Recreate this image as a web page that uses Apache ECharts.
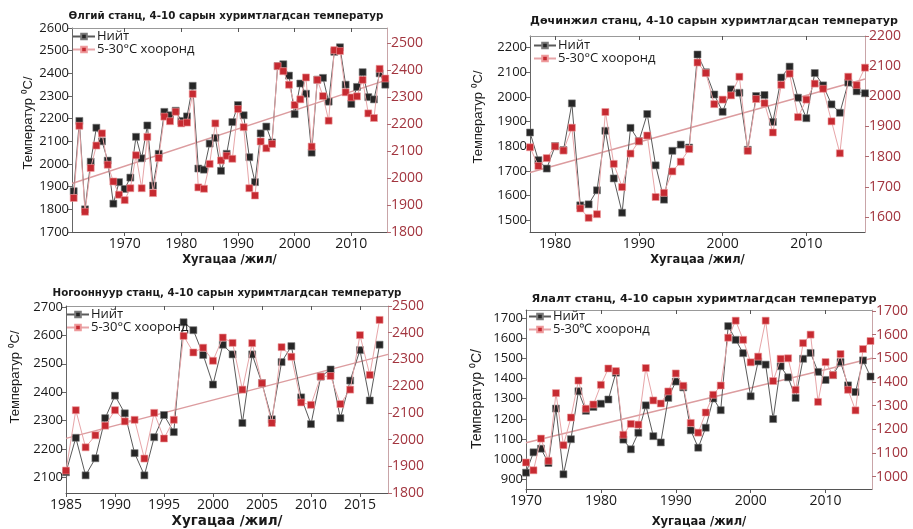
<!DOCTYPE html>
<html>
<head>
<meta charset="utf-8">
<script src="https://cdn.jsdelivr.net/npm/echarts@6/dist/echarts.min.js"></script>
<style>
  html, body { margin: 0; padding: 0; background: #fff; }
  #chart { width: 913px; height: 529px; }
</style>
</head>
<body>
<div id="chart"></div>
<script>
// ---- Өлгий станц (1961–2016) ----
const olgiiStart = 1961;
const olgiiTotal = [1880, 2190, 1800, 2010, 2160, 2100, 2015, 1825, 1920, 1890,
                    1940, 2120, 2025, 2170, 1905, 2045, 2230, 2215, 2235, 2190,
                    2210, 2345, 1980, 1975, 2090, 2115, 1970, 2045, 2185, 2260,
                    2215, 2030, 1920, 2135, 2165, 2095, 2432, 2440, 2390, 2220,
                    2355, 2310, 2050, 2372, 2380, 2275, 2495, 2515, 2350, 2265,
                    2340, 2405, 2295, 2285, 2400, 2350];
const olgiiRange = [1926, 2193, 1875, 2037, 2120, 2165, 2049, 1987, 1938, 1918,
                    1962, 2084, 1962, 2152, 1944, 2074, 2227, 2210, 2245, 2202,
                    2205, 2311, 1965, 1960, 2052, 2202, 2065, 2082, 2071, 2255,
                    2188, 1962, 1935, 2135, 2110, 2126, 2414, 2395, 2345, 2270,
                    2291, 2372, 2116, 2363, 2303, 2212, 2473, 2470, 2317, 2298,
                    2302, 2363, 2239, 2222, 2404, 2368];
const olgiiTrend = [[1960.7, 1914], [2016.3, 2371]];
const olgiiXTicks = [1970, 1980, 1990, 2000, 2010];
const olgiiLeftTicks = [1700, 1800, 1900, 2000, 2100, 2200, 2300, 2400, 2500, 2600];
const olgiiRightTicks = [1800, 1900, 2000, 2100, 2200, 2300, 2400, 2500];

// ---- Дөчинжил станц (1977–2017) ----
const duchinzhilStart = 1977;
const duchinzhilTotal = [1856, 1744, 1710, 1801, 1785, 1974, 1561, 1565, 1622, 1863,
                         1670, 1531, 1875, 1821, 1931, 1723, 1584, 1782, 1807, 1795,
                         2172, 2100, 2010, 1940, 2031, 2017, 1786, 2004, 2008, 1899,
                         2079, 2123, 1997, 1914, 2097, 2047, 1970, 1936, 2058, 2023,
                         2015];
const duchinzhilRange = [1831, 1769, 1795, 1834, 1820, 1896, 1628, 1597, 1609, 1948,
                         1776, 1699, 1810, 1851, 1870, 1666, 1680, 1751, 1783, 1825,
                         2112, 2077, 1974, 1989, 2003, 2065, 1819, 1991, 1977, 1880,
                         2038, 2075, 1931, 1989, 2042, 2025, 1917, 1811, 2065, 2037,
                         2095];
const duchinzhilTrend = [[1977, 1694], [2017, 2073]];
const duchinzhilXTicks = [1980, 1990, 2000, 2010];
const duchinzhilLeftTicks = [1500, 1600, 1700, 1800, 1900, 2000, 2100, 2200];
const duchinzhilRightTicks = [1600, 1700, 1800, 1900, 2000, 2100, 2200];

// ---- Ногооннуур станц (1985–2017) ----
const nogoonnuurStart = 1985;
const nogoonnuurTotal = [2119, 2240, 2108, 2168, 2309, 2388, 2326, 2186, 2108, 2242,
                         2320, 2260, 2646, 2618, 2531, 2427, 2567, 2533, 2292, 2533,
                         2432, 2305, 2506, 2562, 2382, 2288, 2455, 2480, 2309, 2441,
                         2548, 2371, 2567];
const nogoonnuurRange = [1884, 2110, 1971, 2016, 2052, 2110, 2068, 2074, 1929, 2100,
                         2004, 2074, 2388, 2326, 2344, 2295, 2382, 2362, 2187, 2361,
                         2211, 2062, 2346, 2310, 2139, 2130, 2236, 2238, 2133, 2187,
                         2391, 2242, 2448];
const nogoonnuurTrend = [[1985, 2238], [2017.86, 2533]];
const nogoonnuurXTicks = [1985, 1990, 1995, 2000, 2005, 2010, 2015];
const nogoonnuurLeftTicks = [2100, 2200, 2300, 2400, 2500, 2600, 2700];
const nogoonnuurRightTicks = [1800, 1900, 2000, 2100, 2200, 2300, 2400, 2500];

// ---- Ялалт станц (1970–2016) ----
const yalaltStart = 1970;
const yalaltTotal = [933, 1034, 1052, 981, 1251, 925, 1099, 1337, 1240, 1259,
                     1275, 1296, 1429, 1097, 1049, 1131, 1267, 1114, 1083, 1304,
                     1385, 1356, 1143, 1057, 1156, 1301, 1243, 1660, 1592, 1526,
                     1312, 1485, 1469, 1199, 1461, 1406, 1304, 1498, 1527, 1433,
                     1393, 1417, 1482, 1366, 1333, 1490, 1410];
const yalaltRange = [1060, 1027, 1161, 1067, 1353, 1133, 1250, 1406, 1287, 1305,
                     1388, 1457, 1446, 1177, 1223, 1220, 1459, 1322, 1309, 1360,
                     1436, 1384, 1227, 1186, 1271, 1346, 1385, 1587, 1659, 1578,
                     1483, 1507, 1659, 1404, 1498, 1500, 1367, 1564, 1600, 1316,
                     1484, 1429, 1518, 1367, 1280, 1539, 1573];
const yalaltTrend = [[1970, 1081], [2016.2, 1501]];
const yalaltXTicks = [1970, 1980, 1990, 2000, 2010];
const yalaltLeftTicks = [900, 1000, 1100, 1200, 1300, 1400, 1500, 1600, 1700];
const yalaltRightTicks = [1000, 1100, 1200, 1300, 1400, 1500, 1600, 1700];

const NAME_TOTAL = 'Нийт';
const NAME_RANGE = '5-30°C хооронд';
const X_NAME = 'Хугацаа /жил/';
const Y_NAME = 'Температур ⁰C/';
const TICK_FONT = "'Open Sans', sans-serif";
const BOLD_FONT = "'DejaVu Sans', sans-serif";
const NAME_FONT = "'Liberation Sans Narrow', 'Liberation Sans', sans-serif";

function toPairs(start, values) {
  return values.map((v, i) => [start + i, v]);
}
const plain = v => String(v);

const panels = [
  {
    title: 'Өлгий станц, 4-10 сарын хуримтлагдсан температур',
    titleAt: [226, 16], titleSize: 10.3,
    yNameAt: [28, 123], yNameSize: 13,
    grid: { left: 72, top: 28, width: 315, height: 204 },
    x: [1960.7, 2016.3], left: [1700, 2600], right: [1800, 2555],
    start: olgiiStart, total: olgiiTotal, range: olgiiRange, trend: olgiiTrend,
    xTicks: olgiiXTicks, leftTicks: olgiiLeftTicks, rightTicks: olgiiRightTicks,
    legendPos: { left: 72, top: 30 }, xNameGap: 22, xNameSize: 11.5
  },
  {
    title: 'Дөчинжил станц, 4-10 сарын хуримтлагдсан температур',
    titleAt: [714, 21], titleSize: 11.1,
    yNameAt: [478, 117], yNameSize: 13,
    grid: { left: 530, top: 36, width: 335, height: 196 },
    x: [1977, 2017], left: [1453, 2247], right: [1550, 2200],
    start: duchinzhilStart, total: duchinzhilTotal, range: duchinzhilRange, trend: duchinzhilTrend,
    xTicks: duchinzhilXTicks, leftTicks: duchinzhilLeftTicks, rightTicks: duchinzhilRightTicks,
    legendPos: { left: 533, top: 39 }, xNameGap: 22, xNameSize: 11.5
  },
  {
    title: 'Ногооннуур станц, 4-10 сарын хуримтлагдсан температур',
    titleAt: [227, 293], titleSize: 10.3,
    yNameAt: [15, 377], yNameSize: 13,
    grid: { left: 66, top: 306, width: 322, height: 194 },
    x: [1985, 2017.86], left: [2046, 2703], right: [1800, 2500],
    start: nogoonnuurStart, total: nogoonnuurTotal, range: nogoonnuurRange, trend: nogoonnuurTrend,
    xTicks: nogoonnuurXTicks, leftTicks: nogoonnuurLeftTicks, rightTicks: nogoonnuurRightTicks,
    legendPos: { left: 66, top: 308 }, xNameGap: 21, xNameSize: 13.5
  },
  {
    title: 'Ялалт станц, 4-10 сарын хуримтлагдсан температур',
    titleAt: [704, 299], titleSize: 11.3,
    yNameAt: [477, 399], yNameSize: 14,
    grid: { left: 526, top: 310, width: 346, height: 183 },
    x: [1970, 2016.2], left: [852, 1740], right: [948, 1704],
    start: yalaltStart, total: yalaltTotal, range: yalaltRange, trend: yalaltTrend,
    xTicks: yalaltXTicks, leftTicks: yalaltLeftTicks, rightTicks: yalaltRightTicks,
    legendPos: { left: 528, top: 310 }, xNameGap: 27, xNameSize: 11.5,
    rangeLabel: '5-30℃ хооронд'
  }
];

const option = {
  animation: false,
  backgroundColor: '#fff',
  grid: [], xAxis: [], yAxis: [], legend: [], series: [], graphic: []
};

panels.forEach((p, i) => {
  // panel title
  option.graphic.push({
    type: 'text', x: p.titleAt[0], y: p.titleAt[1], silent: true,
    style: {
      text: p.title, fill: '#1a1a1a', align: 'center', verticalAlign: 'middle',
      font: `bold ${p.titleSize}px ${BOLD_FONT}`
    }
  });
  // vertical axis caption
  option.graphic.push({
    type: 'text', x: p.yNameAt[0], y: p.yNameAt[1], rotation: Math.PI / 2, silent: true,
    style: {
      text: Y_NAME, fill: '#1a1a1a', align: 'center', verticalAlign: 'middle',
      font: `${p.yNameSize}px ${NAME_FONT}`
    }
  });

  option.grid.push(Object.assign({ containLabel: false }, p.grid));

  // bottom axis with year labels
  option.xAxis.push({
    gridIndex: i, type: 'value', min: p.x[0], max: p.x[1], position: 'bottom',
    axisLine: { show: true, onZero: false, lineStyle: { color: '#555', width: 1 } },
    axisTick: { show: true, customValues: p.xTicks, length: 4, lineStyle: { color: '#555' } },
    axisLabel: { customValues: p.xTicks, formatter: plain, color: '#1a1a1a', fontSize: 14, fontFamily: TICK_FONT, margin: 5 },
    splitLine: { show: false },
    name: X_NAME, nameLocation: 'middle', nameGap: p.xNameGap,
    nameTextStyle: { fontFamily: BOLD_FONT, fontWeight: 'bold', fontSize: p.xNameSize, color: '#1a1a1a' }
  });
  // top frame edge
  option.xAxis.push({
    gridIndex: i, type: 'value', min: p.x[0], max: p.x[1], position: 'top',
    axisLine: { show: true, onZero: false, lineStyle: { color: '#999', width: 1 } },
    axisTick: { show: true, inside: true, customValues: p.xTicks, length: 4, lineStyle: { color: '#555' } },
    axisLabel: { show: false }, splitLine: { show: false }
  });
  // left axis: total accumulated temperature
  option.yAxis.push({
    gridIndex: i, type: 'value', min: p.left[0], max: p.left[1], position: 'left',
    axisLine: { show: true, onZero: false, lineStyle: { color: '#666', width: 1 } },
    axisTick: { show: true, customValues: p.leftTicks, length: 4, lineStyle: { color: '#666' } },
    axisLabel: { customValues: p.leftTicks, formatter: plain, color: '#1a1a1a', fontSize: 13, fontFamily: TICK_FONT, margin: 3 },
    splitLine: { show: false }
  });
  // right axis: accumulated temperature between 5 and 30 °C
  option.yAxis.push({
    gridIndex: i, type: 'value', min: p.right[0], max: p.right[1], position: 'right',
    axisLine: { show: true, onZero: false, lineStyle: { color: '#c9a5a8', width: 1 } },
    axisTick: { show: true, customValues: p.rightTicks, length: 4, lineStyle: { color: '#b06a70' } },
    axisLabel: { customValues: p.rightTicks, formatter: plain, color: '#a2343e', fontSize: 14, fontFamily: TICK_FONT, margin: 4 },
    splitLine: { show: false }
  });

  option.legend.push({
    left: p.legendPos.left, top: p.legendPos.top, orient: 'vertical', padding: 0,
    itemGap: 0, itemWidth: 22, itemHeight: 7, selectedMode: false,
    data: [NAME_TOTAL, NAME_RANGE],
    formatter: name => (name === NAME_RANGE && p.rangeLabel) ? p.rangeLabel : name,
    textStyle: { fontSize: 13, color: '#1a1a1a', fontFamily: TICK_FONT, padding: [0, 0, 0, -3] }
  });

  option.series.push({
    type: 'line', silent: true, xAxisIndex: 2 * i, yAxisIndex: 2 * i,
    data: p.trend, symbol: 'none', z: 2,
    lineStyle: { color: '#dc9c9f', width: 1.5 }
  });
  option.series.push({
    name: NAME_TOTAL, type: 'line', xAxisIndex: 2 * i, yAxisIndex: 2 * i,
    data: toPairs(p.start, p.total), symbol: 'rect', symbolSize: 7, showSymbol: true, clip: false, z: 3,
    lineStyle: { color: '#5a5a5a', width: 1 },
    itemStyle: { color: '#262626', borderColor: '#7a7a7a', borderWidth: 0.6 }
  });
  option.series.push({
    name: NAME_RANGE, type: 'line', xAxisIndex: 2 * i, yAxisIndex: 2 * i + 1,
    data: toPairs(p.start, p.range), symbol: 'rect', symbolSize: 7, showSymbol: true, clip: false, z: 4,
    lineStyle: { color: '#e7a5a8', width: 1 },
    itemStyle: { color: '#c62a31', borderColor: '#ee9a9c', borderWidth: 0.6 }
  });
});

const chart = echarts.init(document.getElementById('chart'), null, { renderer: 'canvas' });
chart.setOption(option);
</script>
</body>
</html>
